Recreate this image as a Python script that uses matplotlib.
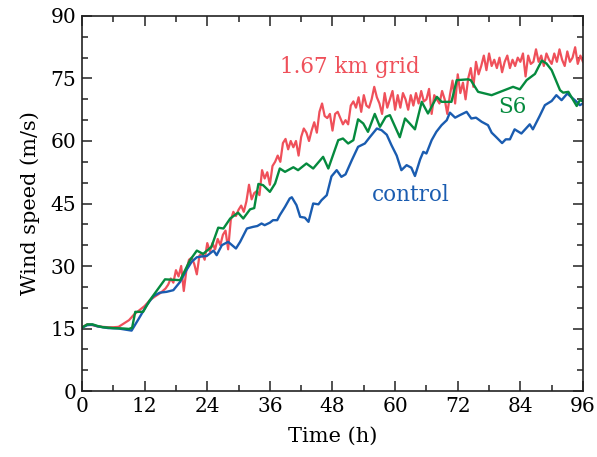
import numpy as np
import matplotlib
matplotlib.use("Agg")
from matplotlib import pyplot as plt
from matplotlib.ticker import MultipleLocator

# 1.67 km grid: hourly 0-16 h, then every half hour 16.5-96 h
red_early = [15.3, 16.0, 15.8, 15.5, 15.4, 15.3, 15.3, 15.4, 16.2, 17.0,
             18.4, 19.4, 20.4, 21.8, 22.7, 23.5, 24.6]
red_late = [25.5,
            27.0, 26.0, 29.0, 27.5, 30.0, 24.0, 29.0, 31.5, 32.0, 30.5,
            28.0, 32.5, 33.0, 31.5, 35.5, 33.5, 35.5, 34.0, 36.5, 35.0,
            37.5, 38.5, 34.0, 41.0, 43.0, 42.0, 43.5, 44.5, 43.0, 45.5,
            49.5, 46.0, 47.5, 48.0, 47.0, 53.0, 51.0, 52.5, 49.5, 54.0,
            55.0, 56.5, 55.0, 59.5, 60.5, 58.0, 60.0, 58.5, 60.0, 56.5,
            61.0, 63.0, 62.0, 60.0, 62.5, 64.5, 62.0, 67.0, 69.0, 66.0,
            65.5, 66.5, 62.5, 66.5, 67.0, 65.5, 64.0, 65.0, 64.0, 68.5,
            69.5, 68.0, 70.5, 67.0, 71.0, 68.5, 68.0, 70.0, 73.0, 70.5,
            69.0, 66.5, 71.5, 68.0, 70.0, 72.0, 67.5, 71.0, 68.0, 71.5,
            70.0, 67.5, 71.0, 68.5, 71.5, 69.0, 72.0, 69.5, 70.0, 72.5,
            66.5, 71.0, 70.0, 69.0, 72.0, 70.0, 66.5, 71.0, 74.5, 69.0,
            76.0, 71.5, 74.0, 70.0, 75.0, 77.5, 73.0, 79.0, 76.0, 78.0,
            80.5, 77.0, 81.0, 78.0, 79.5, 77.5, 80.0, 76.5, 79.0, 80.5,
            77.5, 79.5, 78.0, 80.0, 79.0, 81.0, 75.5, 80.5, 78.5, 79.0,
            82.0, 79.0, 80.5, 78.0, 81.0, 79.5, 78.5, 81.0, 79.0, 82.0,
            79.5, 78.0, 81.5, 79.0, 80.0, 82.5, 78.5, 80.5, 79.0]
red_hours = np.concatenate([np.arange(0, 17, 1.0), np.arange(16.5, 96.01, 0.5)])
red_speed = np.array(red_early + red_late)

# S6
s6_hours = [0, 1, 2, 3, 4, 6, 8, 9, 9.6, 10.2, 11.7, 13, 15.9, 18.8, 20.7, 22, 23.2,
            24.8, 26.1, 27.1, 28.4, 29.9, 30.9, 32.2, 33, 33.8, 34.7, 36, 37, 37.9,
            38.9, 40.5, 41.4, 43, 44.3, 46.2, 47.2, 49.1, 50, 51, 52, 52.9, 53.9,
            54.8, 56.1, 57.1, 58.2, 59, 60.9, 61.9, 62.8, 63.8, 65.1, 66.3, 68,
            68.9, 70.8, 71.8, 74, 74.5, 75.9, 78.5, 82.6, 83.9, 85.2, 86.8, 88.1,
            89, 90, 91.6, 92.2, 93.2, 94.8, 95.4, 96]
s6_speed = [15.2, 16.0, 16.0, 15.6, 15.3, 15.1, 15.0, 14.9, 15.2, 19.0, 19.0, 21.8,
            26.8, 26.6, 31.4, 33.7, 32.9, 34.6, 39.2, 39.0, 41.4, 42.8, 41.4, 43.6,
            43.9, 49.7, 49.4, 47.8, 49.8, 53.4, 52.6, 53.7, 53.0, 54.6, 53.4, 56.2,
            53.4, 60.2, 60.6, 59.4, 60.2, 65.2, 64.2, 62.2, 66.5, 63.4, 65.8, 66.2,
            60.9, 65.4, 64.2, 62.8, 69.4, 66.6, 70.6, 69.4, 69.4, 74.6, 74.8, 74.6,
            71.8, 71.0, 73.0, 72.4, 74.6, 76.1, 79.3, 78.6, 77.0, 72.2, 71.6, 71.8,
            68.4, 69.8, 69.5]

# control
ctl_hours = [0, 1, 2, 3, 5, 7, 8.5, 9.5, 10.8, 12.4, 13.7, 14.9, 16.2, 17.5, 18.8,
             20, 21, 22, 23, 23.9, 25.2, 25.8, 26.8, 28, 29.5, 30.3, 31.6, 32.8,
             33.6, 34.4, 35, 36, 36.6, 37.4, 37.9, 38.9, 39.8, 40.2, 41.1, 41.8,
             42.7, 43.4, 44.3, 45.3, 45.9, 46.9, 47.8, 48.8, 49.7, 50.5, 51.7, 52.9,
             54.2, 55.2, 56.5, 57.4, 58.4, 59.3, 60.3, 61.2, 62.2, 63.1, 63.8, 64.8,
             65.4, 66, 67, 67.9, 68.9, 69.9, 70.5, 71.5, 72.4, 73.7, 74.6, 75.5,
             76.6, 77.8, 78.5, 79.4, 80.5, 81.2, 82, 82.9, 84.2, 85.8, 86.4, 87.7,
             88.7, 90, 90.9, 91.9, 93, 93.7, 94.8, 95.4, 96]
ctl_speed = [15.2, 15.8, 15.9, 15.5, 15.1, 15.0, 14.7, 14.5, 17.2, 20.6, 22.8, 23.6,
             23.8, 24.2, 26.2, 29.0, 31.0, 32.1, 32.3, 32.4, 33.7, 32.6, 35.0, 35.8,
             34.2, 35.8, 39.0, 39.4, 39.6, 40.2, 39.8, 40.4, 41.0, 41.0, 42.2, 44.2,
             46.2, 46.5, 44.6, 41.8, 41.6, 40.6, 45.0, 44.8, 45.8, 47.0, 51.5, 53.0,
             51.4, 52.0, 55.4, 58.6, 59.4, 61.0, 63.0, 62.6, 61.5, 59.0, 56.5, 53.0,
             54.2, 53.6, 51.6, 55.6, 57.4, 57.0, 60.2, 62.2, 63.8, 65.0, 66.8, 65.6,
             66.2, 67.0, 65.4, 65.6, 64.6, 63.8, 62.0, 60.9, 59.5, 60.4, 60.4, 62.8,
             61.8, 64.0, 62.8, 66.0, 68.6, 69.6, 71.0, 69.8, 71.4, 70.6, 69.4, 68.6,
             69.0]

RED = "#ef505a"
GREEN = "#058a3e"
BLUE = "#1a5cb0"

plt.rcParams["font.family"] = ["DejaVu Serif"]

fig = plt.figure(figsize=(5.97, 4.57), dpi=100)
ax = fig.add_axes([0.1374, 0.1444, 0.8391, 0.8206])

ax.plot(red_hours, red_speed, color=RED, lw=1.6)
ax.plot(ctl_hours, ctl_speed, color=BLUE, lw=1.7)
ax.plot(s6_hours, s6_speed, color=GREEN, lw=1.7)

ax.text(51.3, 77.8, "1.67 km grid", color=RED, fontsize=15.5, ha="center", va="center")
ax.text(82.4, 68.2, "S6", color=GREEN, fontsize=15.5, ha="center", va="center")
ax.text(63.0, 47.0, "control", color=BLUE, fontsize=15.5, ha="center", va="center")

ax.set_xlim(0, 96)
ax.set_ylim(0, 90)
ax.xaxis.set_major_locator(MultipleLocator(12))
ax.xaxis.set_minor_locator(MultipleLocator(6))
ax.yaxis.set_major_locator(MultipleLocator(15))
ax.yaxis.set_minor_locator(MultipleLocator(5))
ax.tick_params(which="both", direction="in", top=True, right=True, width=1.1,
               labelsize=14.5, colors="#222222", labelcolor="black")
ax.tick_params(which="major", length=7, pad=4)
ax.tick_params(which="minor", length=4)
for s in ax.spines.values():
    s.set_linewidth(1.2)
    s.set_color("#222222")

ax.set_xlabel("Time (h)", fontsize=15, labelpad=8)
ax.set_ylabel("Wind speed (m/s)", fontsize=15, labelpad=8)

fig.savefig("out.png", dpi=100)
